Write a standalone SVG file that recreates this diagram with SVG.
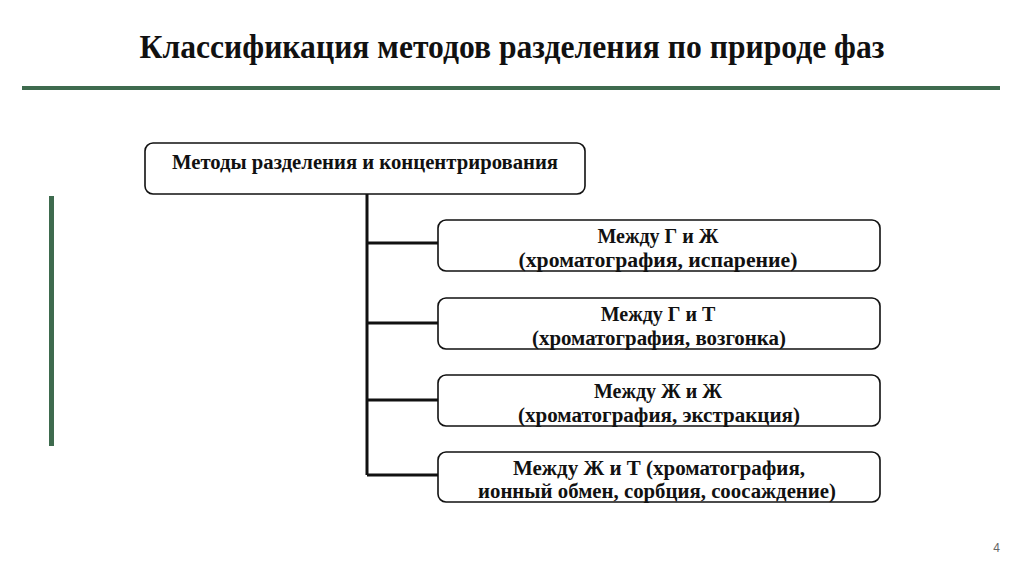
<svg xmlns="http://www.w3.org/2000/svg" width="1024" height="575" viewBox="0 0 1024 575">
<style>
.box{fill:#fff;stroke:#111;stroke-width:1.6}
.t{font-family:"Liberation Serif","Times New Roman",serif;font-weight:bold;font-size:20px;fill:#111;text-anchor:middle}
.conn{stroke:#111;stroke-width:3;fill:none}
</style>
<rect width="1024" height="575" fill="#fff"/>
<text x="512" y="58" font-family="Liberation Serif, serif" font-weight="bold" font-size="34" text-anchor="middle" fill="#111" textLength="745" lengthAdjust="spacingAndGlyphs">Классификация методов разделения по природе фаз</text>
<rect x="22" y="86" width="978" height="4" fill="#3e6b4e"/>
<rect x="49" y="196" width="5" height="250" fill="#3e6b4e"/>
<g id="connectors">
<path class="conn" d="M367 194 V475 M367 243 H438 M367 323 H438 M367 400 H438 M367 475 H438"/>
</g>
<g id="root">
<rect class="box" x="145" y="143" width="440" height="51" rx="8"/>
<text class="t" x="365" y="169" textLength="386" lengthAdjust="spacingAndGlyphs">Методы разделения и концентрирования</text>
</g>
<g id="n1">
<rect class="box" x="438" y="220" width="442" height="51" rx="8"/>
<text class="t" x="658" y="243">Между Г и Ж</text>
<text class="t" x="658" y="267" textLength="279" lengthAdjust="spacingAndGlyphs">(хроматография, испарение)</text>
</g>
<g id="n2">
<rect class="box" x="438" y="298" width="442" height="51" rx="8"/>
<text class="t" x="658" y="321">Между Г и Т</text>
<text class="t" x="659" y="345" textLength="254" lengthAdjust="spacingAndGlyphs">(хроматография, возгонка)</text>
</g>
<g id="n3">
<rect class="box" x="438" y="375" width="442" height="51" rx="8"/>
<text class="t" x="658" y="398">Между Ж и Ж</text>
<text class="t" x="659" y="422" textLength="282" lengthAdjust="spacingAndGlyphs">(хроматография, экстракция)</text>
</g>
<g id="n4">
<rect class="box" x="438" y="452" width="442" height="50" rx="8"/>
<text class="t" x="659" y="475" textLength="292" lengthAdjust="spacingAndGlyphs">Между Ж и Т (хроматография,</text>
<text class="t" x="657" y="498" textLength="358" lengthAdjust="spacingAndGlyphs">ионный обмен, сорбция, соосаждение)</text>
</g>
<text x="1000" y="552" font-family="Liberation Sans, sans-serif" font-size="12" fill="#666" text-anchor="end">4</text>
</svg>
